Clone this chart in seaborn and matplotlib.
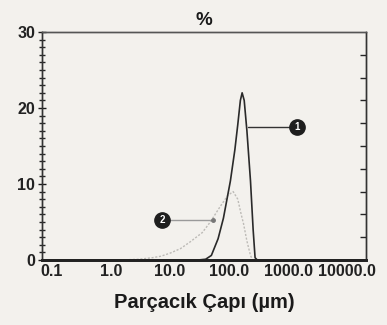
import numpy as np
import pandas as pd
import matplotlib
matplotlib.use("Agg")
import matplotlib.pyplot as plt
import seaborn as sns
from matplotlib.ticker import FixedLocator, MultipleLocator, NullLocator

# ---- data ----
c1_x = [0.07, 30, 40, 50, 65, 80, 105, 125, 140, 155, 166, 180, 200, 230, 255, 275, 300, 20000]
c1_y = [0, 0, 0.1, 0.6, 2.8, 5.5, 10.4, 14.5, 17.8, 21.0, 22.0, 21.0, 17, 10.4, 4, 0.3, 0, 0]

c2_x = [0.07, 1.5, 3, 5, 7, 10, 15, 22, 35, 48, 70, 95, 117, 140, 160, 175, 200, 230, 250, 20000]
c2_y = [0, 0, 0.1, 0.3, 0.5, 0.9, 1.5, 2.4, 3.6, 5.0, 7.0, 8.5, 9.0, 8.0, 6.0, 4.8, 2.5, 0.6, 0, 0]

x_ticks = [0.1, 1, 10, 100, 1000, 10000]
x_labels = ["0.1", "1.0", "10.0", "100.0", "1000.0", "10000.0"]
y_ticks = [0, 10, 20, 30]

bg = "#f3f1ed"
sns.set_theme(style="white")
plt.rcParams["font.family"] = ["Liberation Sans", "DejaVu Sans"]

fig = plt.figure(figsize=(3.87, 3.25), dpi=100, facecolor=bg)
ax = fig.add_axes([0.1085, 0.2, 0.8375, 0.7015], facecolor=bg)

df1 = pd.DataFrame({"x": c1_x, "y": c1_y})
df2 = pd.DataFrame({"x": c2_x, "y": c2_y})
sns.lineplot(data=df2, x="x", y="y", ax=ax, color="#bdbbb7", lw=1.0,
             linestyle=(0, (1.5, 1.2)), estimator=None, sort=False)
sns.lineplot(data=df1, x="x", y="y", ax=ax, color="#2a2a2a", lw=1.2,
             estimator=None, sort=False)

ax.set_xscale("log")
ax.set_xlim(10 ** -1.17, 10 ** 4.32)
ax.set_ylim(0, 30)

ax.xaxis.set_major_locator(FixedLocator(x_ticks))
ax.xaxis.set_minor_locator(NullLocator())
ax.set_xticklabels(x_labels)
ax.set_yticks(y_ticks)
ax.yaxis.set_minor_locator(MultipleLocator(1))
ax.tick_params(axis="x", which="both", length=0, labelsize=11.5, pad=3, colors="#1a1a1a")
ax.tick_params(axis="y", which="major", direction="inout", length=6, width=1,
               labelsize=11.5, pad=2, colors="#1a1a1a", left=True)
ax.tick_params(axis="y", which="minor", direction="inout", length=4, width=1, left=True)
for lab in ax.get_xticklabels() + ax.get_yticklabels():
    lab.set_fontweight("bold")
    lab.set_color("#222222")

# right side inward ticks
ax2 = ax.twinx()
ax2.set_ylim(0, 30)
ax2.yaxis.set_major_locator(FixedLocator([3, 6, 9, 12, 15, 18, 21, 24, 27]))
ax2.tick_params(axis="y", direction="in", length=4, width=1, labelright=False, right=True)
ax2.set_facecolor("none")

for a in (ax, ax2):
    for s in a.spines.values():
        s.set_color("#333333")
        s.set_linewidth(1.0)
    a.spines["bottom"].set_linewidth(2.0)
    a.spines["bottom"].set_color("#222222")
    a.spines["top"].set_color("#555555")

ax.set_xlabel("Parçacık Çapı (µm)", fontsize=14.5, fontweight="bold", color="#1a1a1a", labelpad=10)
ax.set_ylabel("")
ax.set_title("%", fontsize=13.5, fontweight="bold", color="#1a1a1a", pad=5)

# annotations
ax.plot([205, 1300], [17.5, 17.5], color="#333333", lw=1.0)
ax.plot([1413], [17.5], "o", ms=11, color="#1e1e1e")
ax.text(1413, 17.5, "1", ha="center", va="center", fontsize=7, color="white", fontweight="bold")

ax.plot([8.2, 54], [5.3, 5.3], color="#9a9a9a", lw=1.0)
ax.plot([54], [5.3], "o", ms=2.5, color="#777777")
ax.plot([7.3], [5.3], "o", ms=11, color="#1e1e1e")
ax.text(7.3, 5.3, "2", ha="center", va="center", fontsize=7, color="white", fontweight="bold")

fig.savefig("out.png", dpi=100, facecolor=bg)
